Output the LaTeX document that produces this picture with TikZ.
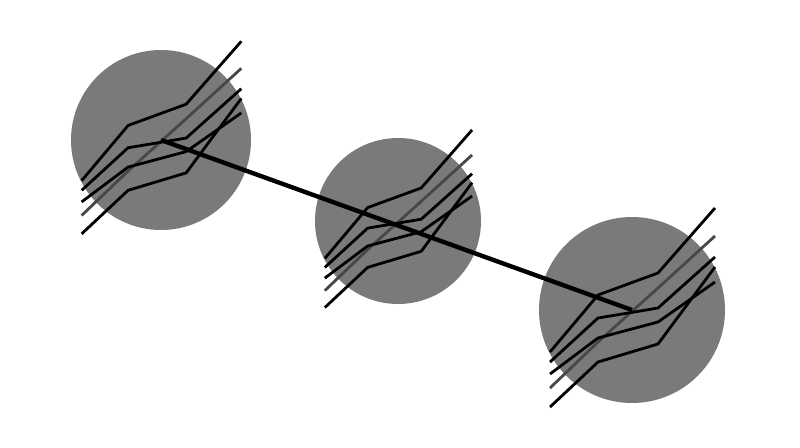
\documentclass[tikz,border=0pt]{standalone}
\usepackage{tikz}
\usetikzlibrary{positioning}
\begin{document}
\begin{tikzpicture}[x=1pt,y=-1pt]
	\tikzstyle{cell}=[circle,fill=black!52,inner sep=0pt]
	\tikzstyle{fiber}=[draw=black,line width=2.8pt,line join=round]
	\tikzstyle{grey fiber}=[fiber,draw=black!72]
	\tikzstyle{link}=[draw=black,line width=4.4pt]
	
	% Fix the canvas
	\useasboundingbox (0,0) rectangle (800,447);
	
	% Draw the three cells
	\foreach \name/\x/\y/\d in {1/161/140/180, 2/398/221/166, 3/632/310/186}
	\node[cell, minimum size=\d pt] (C-\name) at (\x,\y) {};
	
	% Draw the bundle of fibers over every cell
	\foreach \name/\r in {1/90, 2/83, 3/93}
	{
		\begin{scope}[shift={(C-\name.center)}, scale=\r/93]
			\path[fiber] (-82,42) -- (-34,-15) -- (26,-37) -- (83,-102);
			\path[grey fiber] (-82,78) -- (-34,32) -- (26,-22) -- (83,-74);
			\path[fiber] (-82,52) -- (-34,8) -- (26,-2) -- (83,-53);
			\path[fiber] (-82,64) -- (-34,28) -- (26,12) -- (83,-28);
			\path[fiber] (-82,97) -- (-34,52) -- (26,34) -- (83,-43);
		\end{scope}
	}
	
	% Join the first and the last cell
	\path[link] (C-1.center) -- (C-3.center);
\end{tikzpicture}
\end{document}
